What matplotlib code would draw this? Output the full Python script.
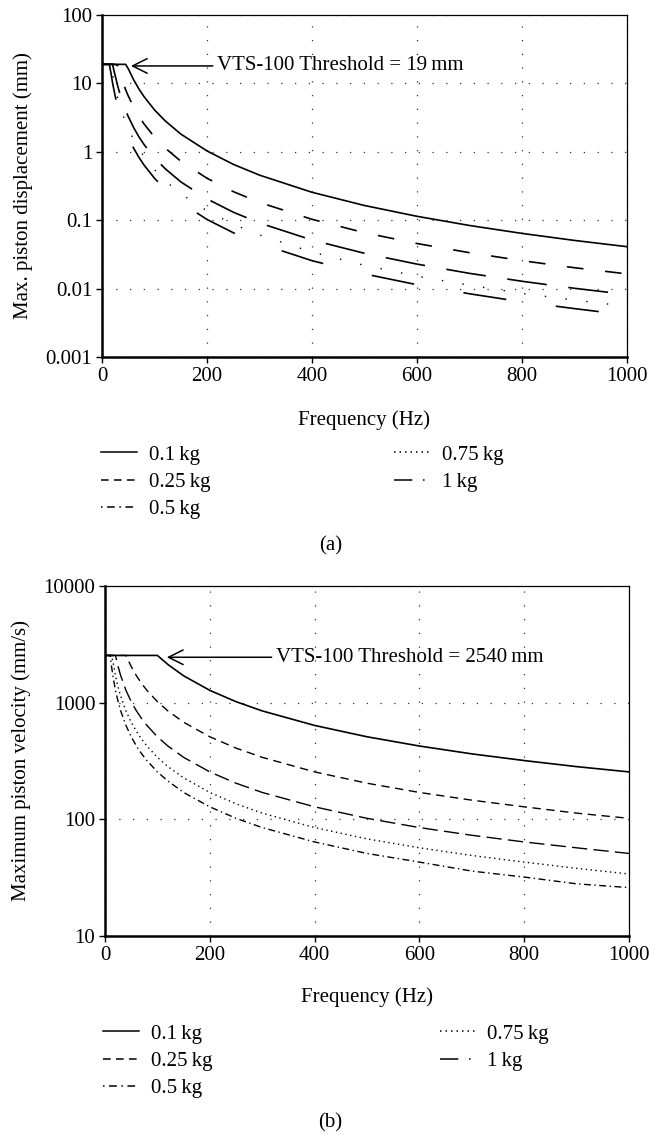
import matplotlib
matplotlib.use("Agg")
import matplotlib.pyplot as plt
from matplotlib.lines import Line2D

plt.rcParams['font.family'] = ['Liberation Serif', 'DejaVu Serif']
plt.rcParams['mathtext.fontset'] = 'stix'
FS = 15

# ---------------- data ----------------
masses = ["0.1\u2009kg", "0.25\u2009kg", "0.5\u2009kg", "0.75\u2009kg", "1\u2009kg"]

# Panel (a): maximum piston displacement (mm)
freq_a = [0, 10, 14, 17, 20, 25, 30, 35, 40, 45, 50, 60, 70, 80, 100, 120, 150,
          200, 250, 300, 400, 500, 600, 700, 800, 900, 1000]
disp_01 = [19, 19, 19, 19, 19, 19, 19, 19, 19, 19, 16.4, 11.4, 8.37, 6.41, 4.10, 2.85, 1.82,
           1.03, 0.656, 0.456, 0.256, 0.164, 0.114, 0.0837, 0.0641, 0.0506, 0.041]
disp_025 = [19, 19, 19, 19, 19, 19, 18.2, 13.4, 10.3, 8.1, 6.56, 4.56, 3.35, 2.56, 1.64, 1.14, 0.73,
            0.41, 0.262, 0.182, 0.103, 0.0656, 0.0456, 0.0335, 0.0256, 0.0202, 0.0164]
disp_05 = [19, 19, 19, 19, 19, 13.1, 9.11, 6.69, 5.13, 4.05, 3.28, 2.28, 1.67, 1.28, 0.82, 0.569, 0.364,
           0.205, 0.131, 0.0911, 0.0513, 0.0328, 0.0228, 0.0167, 0.0128, 0.0101, 0.0082]
disp_075 = [19, 19, 19, 18.9, 13.7, 8.75, 6.08, 4.47, 3.42, 2.70, 2.19, 1.52, 1.12, 0.855, 0.547, 0.380, 0.243,
            0.137, 0.0875, 0.0608, 0.0342, 0.0219, 0.0152, 0.0112, 0.0085, 0.0068, 0.0055]
disp_1 = [19, 19, 19, 14.2, 10.3, 6.56, 4.56, 3.35, 2.56, 2.02, 1.64, 1.14, 0.837, 0.641, 0.41, 0.285, 0.182,
          0.1025, 0.0656, 0.0456, 0.0256, 0.0164, 0.0114, 0.0084, 0.0064, 0.0051, 0.0041]

# Panel (b): maximum piston velocity (mm/s)
freq_b = [0, 10, 12, 15, 20, 25, 30, 40, 50, 60, 70, 80, 100, 120, 150, 200, 250, 300,
          400, 500, 600, 700, 800, 900, 1000]
vel_01 = [2540, 2540, 2540, 2540, 2540, 2540, 2540, 2540, 2540, 2540, 2540, 2540, 2540, 2125, 1700, 1275,
          1020, 850, 638, 510, 425, 364, 319, 283, 255]
vel_025 = [2540, 2540, 2540, 2540, 2540, 2540, 2540, 2540, 2040, 1700, 1457, 1275, 1020, 850, 680, 510,
           408, 340, 255, 204, 170, 146, 128, 113, 102]
vel_05 = [2540, 2540, 2540, 2540, 2540, 2040, 1700, 1275, 1020, 850, 729, 638, 510, 425, 340, 255,
          204, 170, 128, 102, 85, 73, 64, 57, 51]
vel_075 = [2540, 2540, 2540, 2267, 1700, 1360, 1133, 850, 680, 567, 486, 425, 340, 283, 227, 170,
           136, 113, 85, 68, 57, 49, 43, 38, 34]
vel_1 = [2540, 2540, 2125, 1700, 1275, 1020, 850, 638, 510, 425, 364, 319, 255, 213, 170, 128,
         102, 85, 64, 51, 43, 36, 32, 28, 26]

x_ticks = [0, 200, 400, 600, 800, 1000]
y_ticks_a = [0.001, 0.01, 0.1, 1, 10, 100]
y_labels_a = ["0.001", "0.01", "0.1", "1", "10", "100"]
y_ticks_b = [10, 100, 1000, 10000]
y_labels_b = ["10", "100", "1000", "10000"]

# ---------------- figure ----------------
W, H = 661, 1135
fig = plt.figure(figsize=(W / 100, H / 100), dpi=100)

def axes_px(l, r, t, b):
    return fig.add_axes([l / W, 1 - b / H, (r - l) / W, (b - t) / H])

ax1 = axes_px(102, 627, 15, 357)
ax2 = axes_px(105, 629, 586, 936)

def style_axes(ax, yt, yl):
    ax.set_yscale('log')
    ax.set_xlim(0, 1000)
    ax.set_ylim(yt[0], yt[-1])
    ax.set_xticks(x_ticks)
    ax.set_xticklabels([str(v) for v in x_ticks])
    ax.set_yticks(yt)
    ax.set_yticklabels(yl)
    ax.yaxis.set_minor_locator(matplotlib.ticker.NullLocator())
    ax.tick_params(direction='out', length=4, width=1, labelsize=FS, pad=3)
    ax.grid(True, which='major', color='#333333', linestyle=(0, (1, 10)), linewidth=0.9)
    for s in ['left', 'bottom']:
        ax.spines[s].set_linewidth(1.8)
    for s in ['top', 'right']:
        ax.spines[s].set_linewidth(0.9)
    ax.set_xlabel("Frequency (Hz)", fontsize=FS, va='center')

style_axes(ax1, y_ticks_a, y_labels_a)
style_axes(ax2, y_ticks_b, y_labels_b)

# panel (a) curves (sparse dash rendering as in original)
lw = 1.2
ax1.plot(freq_a, disp_01, color='black', lw=lw, ls='-')
ax1.plot(freq_a, disp_025, color='black', lw=lw, ls=(0, (10, 13)))
ax1.plot(freq_a, disp_05, color='black', lw=lw, ls=(0, (24, 13)))
ax1.plot(freq_a, disp_075, color='black', lw=1.0, ls=(0, (1, 14)))
ax1.plot(freq_a, disp_1, color='black', lw=lw, ls=(0, (26, 30)))

# panel (b) curves
lw2 = 1.0
ax2.plot(freq_b, vel_01, color='black', lw=1.2, ls='-')
ax2.plot(freq_b, vel_025, color='black', lw=lw2, ls=(0, (6, 4)))
ax2.plot(freq_b, vel_05, color='black', lw=lw2, ls=(0, (11, 4.5)))
ax2.plot(freq_b, vel_075, color='black', lw=lw2, ls=(0, (1, 2.5)))
ax2.plot(freq_b, vel_1, color='black', lw=lw2, ls=(0, (5, 2.5, 1, 2.5)))

ax1.set_ylabel("Max. piston displacement (mm)", fontsize=FS, va='center')
ax2.set_ylabel("Maximum piston velocity (mm/s)", fontsize=FS, va='center')
ax1.yaxis.set_label_coords((23 - 102) / 525, (357 - 186) / 342)
ax2.yaxis.set_label_coords((21 - 105) / 524, 0.5)
ax1.xaxis.set_label_coords(0.5, (357 - 420) / 342)
ax2.xaxis.set_label_coords(0.5, (936 - 997) / 350)

arrow = dict(arrowstyle='->,head_length=0.7,head_width=0.35', color='black', lw=1.1,
             shrinkA=1, shrinkB=0)
ax1.annotate("VTS-100 Threshold = 19\u2009mm", xy=(55, 18), xytext=(219, 18),
             ha='left', va='center', fontsize=FS, arrowprops=arrow)
ax2.annotate("VTS-100 Threshold = 2540\u2009mm", xy=(118, 2450), xytext=(326, 2450),
             ha='left', va='center', fontsize=FS, arrowprops=arrow)

# legends
def leg_handles():
    return [Line2D([], [], color='black', lw=1.1, ls='-'),
            Line2D([], [], color='black', lw=1.1, ls=(0, (5, 3.5))),
            Line2D([], [], color='black', lw=1.1, ls=(0, (1, 3, 5, 3))),
            Line2D([], [], color='black', lw=1.1, ls=(0, (1, 2.6))),
            Line2D([], [], color='black', lw=1.1, ls=(0, (12, 7, 1, 20)))]

fig.legend(leg_handles(), masses, ncol=2, frameon=False, fontsize=FS,
           loc='upper left', bbox_to_anchor=(101 / W, 1 - 445 / H),
           borderpad=0, borderaxespad=0, handlelength=1.75, handletextpad=0.55,
           labelspacing=0.37, columnspacing=8.8)
fig.legend(leg_handles(), masses, ncol=2, frameon=False, fontsize=FS,
           loc='upper left', bbox_to_anchor=(103 / W, 1 - 1024 / H),
           borderpad=0, borderaxespad=0, handlelength=1.75, handletextpad=0.55,
           labelspacing=0.37, columnspacing=10.9)

fig.text(0.5, 1 - 546 / H, "(a)", ha='center', va='center', fontsize=FS)
fig.text(0.5, 1 - 1123 / H, "(b)", ha='center', va='center', fontsize=FS)

fig.savefig("out.png", dpi=100)
